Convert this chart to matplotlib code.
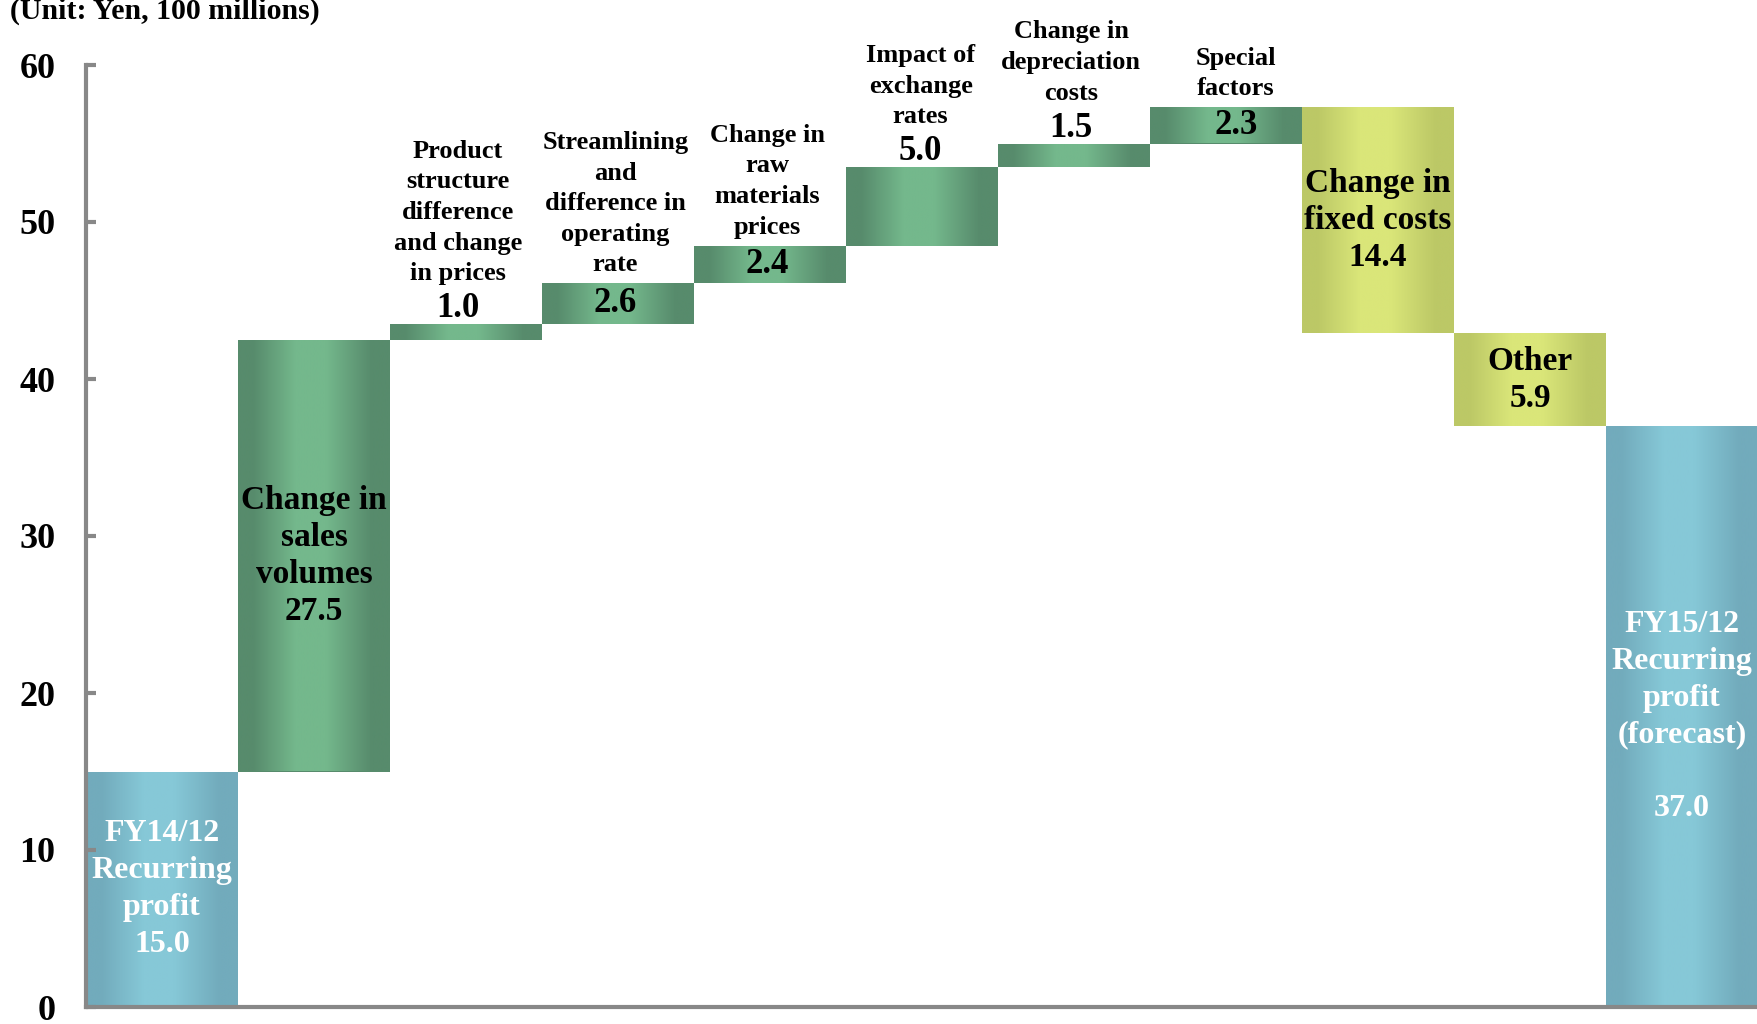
import numpy as np
import matplotlib
matplotlib.use('Agg')
import matplotlib.pyplot as plt
from matplotlib.colors import LinearSegmentedColormap

plt.rcParams['font.family'] = ['Liberation Serif', 'DejaVu Serif']
plt.rcParams['font.weight'] = 'bold'

# recurring profit bridge FY14/12 -> FY15/12, unit: Yen 100 millions
names = ['FY14/12\nRecurring\nprofit',
         'Change in\nsales\nvolumes',
         'Product\nstructure\ndifference\nand change\nin prices',
         'Streamlining\nand\ndifference in\noperating\nrate',
         'Change in\nraw\nmaterials\nprices',
         'Impact of\nexchange\nrates',
         'Change in\ndepreciation\ncosts',
         'Special\nfactors',
         'Change in\nfixed costs',
         'Other',
         'FY15/12\nRecurring\nprofit\n(forecast)\n']
values = [15.0, 27.5, 1.0, 2.6, 2.4, 5.0, 1.5, 2.3, -14.4, -5.9, 37.0]
kinds = ['total', 'step', 'step', 'step', 'step', 'step', 'step', 'step', 'step', 'step', 'total']

# how each bar gets labelled: whole label inside, name+value above, or value inside / name above
label_mode = ['inside', 'inside', 'above', 'split', 'split', 'above', 'above', 'split', 'inside', 'inside', 'inside']
# small sideways shift of some labels (points)
label_dx = [0, 0, -6, -2, -2, -1, -2, 7, 0, 0, 0]

# bottoms and heights of the floating bars
bottoms = []
heights = []
running = 0.0
for v, k in zip(values, kinds):
    if k == 'total':
        bottoms.append(0.0)
        heights.append(v)
        running = v
    else:
        bottoms.append(running if v > 0 else running + v)
        heights.append(abs(v))
        running += v


def shade(dark, light):
    return LinearSegmentedColormap.from_list(
        'shade', [(0.0, dark), (0.1, dark), (0.38, light), (0.58, light), (0.88, dark), (1.0, dark)])


blue = shade('#72abbc', '#86c8d7')
green = shade('#578b6c', '#74b88c')
yellow = shade('#bcc866', '#dae679')


def bar_cmap(v, k):
    if k == 'total':
        return blue
    return green if v > 0 else yellow


fig = plt.figure(figsize=(17.58, 10.24), dpi=100)
ax = fig.add_axes([86 / 1758, 1 - 1007 / 1024, 1 - 86 / 1758, (1007 - 65) / 1024])

x = np.arange(len(values))
bars = ax.bar(x, heights, bottom=bottoms, width=1.0, color='#578b6c', linewidth=0, zorder=1)

grad = np.linspace(0, 1, 256).reshape(1, -1)
for b, v, k in zip(bars, values, kinds):
    x0, y0 = b.get_x(), b.get_y()
    im = ax.imshow(grad, cmap=bar_cmap(v, k), aspect='auto', interpolation='bilinear',
                   extent=[x0, x0 + b.get_width(), y0, y0 + b.get_height()], zorder=1.2)
    im.set_clip_path(b)

for b, name, v, k, mode, dx in zip(bars, names, values, kinds, label_mode, label_dx):
    cx = b.get_x() + b.get_width() / 2
    top = b.get_y() + b.get_height()
    mid = b.get_y() + b.get_height() / 2
    txt = '%.1f' % abs(v)
    if mode == 'inside':
        color = 'white' if k == 'total' else 'black'
        size = 23 if k == 'total' else 24
        ls = 1.36 if k == 'total' else 1.25
        ax.annotate(name + '\n' + txt, (cx, mid), xytext=(dx, 0), textcoords='offset points',
                    ha='center', va='center', fontsize=size, color=color, linespacing=ls, zorder=3)
    elif mode == 'above':
        ax.annotate(txt, (cx, top), xytext=(dx, 11), textcoords='offset points',
                    ha='center', va='center', fontsize=25, zorder=3)
        ax.annotate(name, (cx, top), xytext=(dx, 28), textcoords='offset points',
                    ha='center', va='bottom', fontsize=19, linespacing=1.42, zorder=3)
    else:
        ax.annotate(txt, (cx, mid), xytext=(dx, 0), textcoords='offset points',
                    ha='center', va='center', fontsize=25, zorder=3)
        ax.annotate(name, (cx, top), xytext=(dx, 5), textcoords='offset points',
                    ha='center', va='bottom', fontsize=19, linespacing=1.42, zorder=3)

ax.set_xlim(-0.5, len(values) - 0.5)
ax.set_ylim(0, 60)
ax.set_yticks(np.arange(0, 61, 10))
ax.set_xticks([])
ax.tick_params(axis='y', direction='in', length=7, width=3, color='#888888',
               labelsize=26, pad=22)
for lab in ax.get_yticklabels():
    lab.set_fontweight('bold')
for side in ['top', 'right']:
    ax.spines[side].set_visible(False)
for side in ['left', 'bottom']:
    ax.spines[side].set_color('#888888')
    ax.spines[side].set_linewidth(3)

fig.text(10 / 1758, 1 - 19 / 1024, '(Unit: Yen, 100 millions)', fontsize=21.5,
         ha='left', va='baseline')

plt.savefig('out.png', dpi=100)
